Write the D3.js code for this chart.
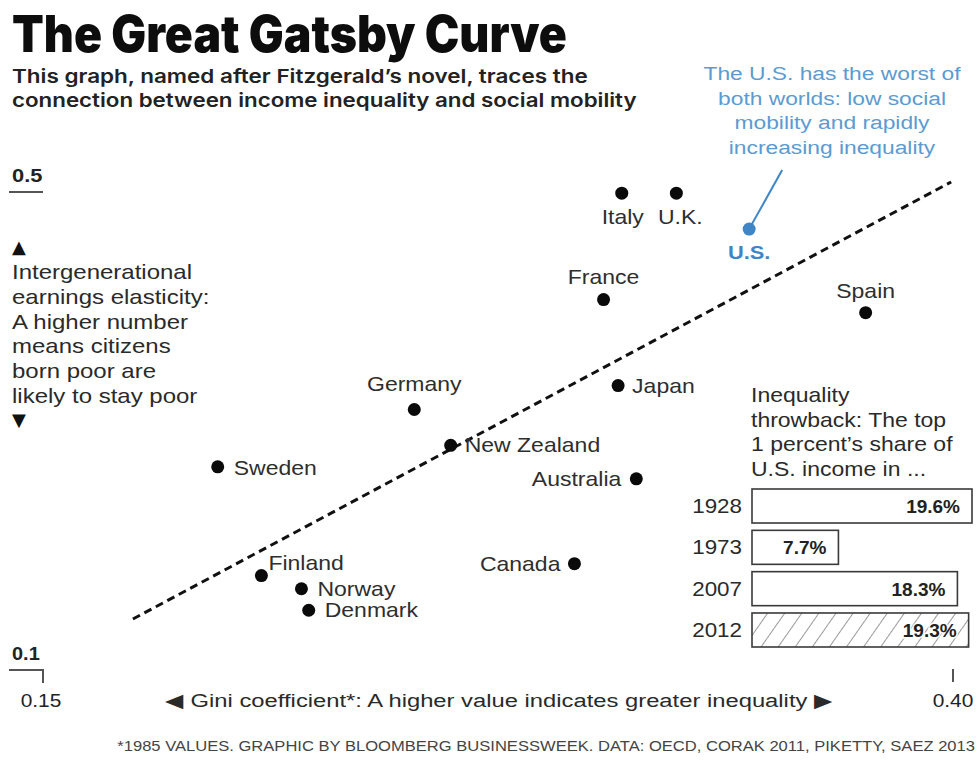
<!DOCTYPE html>
<html>
<head>
<meta charset="utf-8">
<script src="https://cdnjs.cloudflare.com/ajax/libs/d3/7.8.5/d3.min.js"></script>
<style>
  html, body { margin: 0; padding: 0; background: #fff; }
  svg { display: block; }
  text { font-family: "Liberation Sans", Arial, Helvetica, sans-serif; }
</style>
</head>
<body>
<div id="chart"></div>
<script>
// ---------- DATA ----------
const countries  = ["Italy", "U.K.", "U.S.", "France", "Spain", "Japan", "Germany", "New Zealand", "Sweden", "Australia", "Canada", "Finland", "Norway", "Denmark"];
const giniValues = [0.309, 0.324, 0.344, 0.304, 0.376, 0.308, 0.252, 0.262, 0.198, 0.313, 0.296, 0.210, 0.221, 0.223];
const elasticity = [0.499, 0.499, 0.469, 0.410, 0.399, 0.338, 0.318, 0.288, 0.270, 0.260, 0.189, 0.179, 0.168, 0.150];

const trendGini = [0.1747, 0.3995];
const trendElasticity = [0.1427, 0.5084];

const xTickValues = [0.15, 0.40];
const xTickLabels = ["0.15", "0.40"];
const yTickValues = [0.1, 0.5];
const yTickLabels = ["0.1", "0.5"];

const insetYears  = ["1928", "1973", "2007", "2012"];
const insetShares = [19.6, 7.7, 18.3, 19.3];
const insetLabels = ["19.6%", "7.7%", "18.3%", "19.3%"];

// ---------- SETUP ----------
const W = 979, H = 760;
const svg = d3.select("#chart").append("svg").attr("width", W).attr("height", H);

const x = d3.scaleLinear().domain([0.15, 0.40]).range([43, 953]);
const y = d3.scaleLinear().domain([0.1, 0.5]).range([670, 192]);

const BLUE = "#5b9bd1";
const BLUE_DARK = "#3f86c6";

// text helper: draws text at (tx,ty), horizontally scaled (sx) or fitted to a width
function txt(parent, tx, ty, s, o = {}) {
  const g = parent.append("g").attr("transform", `translate(${tx},${ty})`);
  const t = g.append("text").text(s)
    .attr("font-size", o.size || 20)
    .attr("font-weight", o.weight || "normal")
    .attr("fill", o.fill || "#2a2a2a")
    .attr("text-anchor", o.anchor || "start");
  if (o.family) t.style("font-family", o.family);
  let sx = o.sx || 1.16;
  if (o.width) {
    const w = t.node().getComputedTextLength();
    if (w > 0) sx = o.width / w;
  }
  t.attr("transform", `scale(${sx},1)`);
  return t;
}

// ---------- TITLE ----------
txt(svg, 12, 52, "The Great Gatsby Curve", {size: 51, weight: 900, fill: "#0d0d0d", width: 555, family: "Inter, 'Liberation Sans', Arial, sans-serif"});
txt(svg, 12, 83, "This graph, named after Fitzgerald’s novel, traces the", {size: 19, weight: 600, fill: "#222", width: 576, family: "Inter, 'Liberation Sans', Arial, sans-serif"});
txt(svg, 12, 107, "connection between income inequality and social mobility", {size: 19, weight: 600, fill: "#222", width: 625, family: "Inter, 'Liberation Sans', Arial, sans-serif"});

// ---------- US annotation ----------
const usLines = ["The U.S. has the worst of", "both worlds: low social", "mobility and rapidly", "increasing inequality"];
usLines.forEach((l, i) => txt(svg, 832, 80 + i * 24.5, l, {size: 19, fill: BLUE, anchor: "middle", sx: 1.2}));

// ---------- Y axis markers ----------
txt(svg, 12, 182, yTickLabels[1], {size: 19, weight: "bold", fill: "#222", sx: 1.15});
svg.append("line").attr("x1", 9).attr("x2", x(0.15)).attr("y1", y(yTickValues[1])).attr("y2", y(yTickValues[1]))
  .attr("stroke", "#555").attr("stroke-width", 2);

txt(svg, 12, 660, yTickLabels[0], {size: 19, weight: "bold", fill: "#222", sx: 1.05});
svg.append("path")
  .attr("d", `M9,${y(yTickValues[0])}H${x(xTickValues[0])}V${y(yTickValues[0]) + 13}`)
  .attr("fill", "none").attr("stroke", "#555").attr("stroke-width", 2);

svg.append("line").attr("x1", x(xTickValues[1])).attr("x2", x(xTickValues[1]))
  .attr("y1", y(yTickValues[0]) - 1).attr("y2", y(yTickValues[0]) + 12)
  .attr("stroke", "#555").attr("stroke-width", 2);

xTickValues.forEach((v, i) => txt(svg, x(v) - (i === 0 ? 2 : 0), 707, xTickLabels[i], {size: 19, fill: "#222", anchor: "middle", sx: 1.1}));

// y-axis description
txt(svg, 12, 253, "▲", {size: 18, fill: "#111", sx: 1.0, family: "'DejaVu Sans', sans-serif"});
const yLab = ["Intergenerational", "earnings elasticity:", "A higher number", "means citizens", "born poor are", "likely to stay poor"];
yLab.forEach((l, i) => txt(svg, 12, 279 + i * 24.8, l, {size: 20, fill: "#2a2a2a", sx: 1.2}));
txt(svg, 12, 426, "▼", {size: 18, fill: "#111", sx: 1.0, family: "'DejaVu Sans', sans-serif"});

// x-axis description
txt(svg, 499, 707, "◀ Gini coefficient*: A higher value indicates greater inequality ▶", {size: 19, fill: "#2a2a2a", anchor: "middle", width: 668});

// footer
txt(svg, 975, 751, "*1985 VALUES. GRAPHIC BY BLOOMBERG BUSINESSWEEK. DATA: OECD, CORAK 2011, PIKETTY, SAEZ 2013",
  {size: 15, fill: "#444", anchor: "end", width: 858, family: "'Liberation Sans Narrow', 'Liberation Sans', Arial, sans-serif"});

// ---------- trend line ----------
const trend = trendGini.map((g, i) => [g, trendElasticity[i]]);
svg.append("path")
  .attr("d", d3.line().x(d => x(d[0])).y(d => y(d[1]))(trend))
  .attr("fill", "none").attr("stroke", "#111").attr("stroke-width", 3)
  .attr("stroke-dasharray", "8,5");

// ---------- points ----------
const pts = countries.map((c, i) => ({name: c, g: giniValues[i], e: elasticity[i]}));

// US leader line
const us = pts.find(p => p.name === "U.S.");
svg.append("line")
  .attr("x1", x(us.g)).attr("y1", y(us.e))
  .attr("x2", x(us.g) + 33).attr("y2", y(us.e) - 59)
  .attr("stroke", BLUE_DARK).attr("stroke-width", 2);

svg.selectAll("circle.pt").data(pts).enter().append("circle")
  .attr("class", "pt")
  .attr("cx", d => x(d.g)).attr("cy", d => y(d.e))
  .attr("r", 6.5)
  .attr("fill", d => d.name === "U.S." ? BLUE_DARK : "#0a0a0a");

// label placement (style, not data)
const place = {
  "Italy":       {dx: 1,   dy: 31, anchor: "middle"},
  "U.K.":        {dx: 4,   dy: 31, anchor: "middle"},
  "U.S.":        {dx: 0,   dy: 30, anchor: "middle"},
  "France":      {dx: 0,   dy: -16, anchor: "middle"},
  "Spain":       {dx: 0,   dy: -15, anchor: "middle"},
  "Japan":       {dx: 14,  dy: 7,  anchor: "start"},
  "Germany":     {dx: 0,   dy: -18, anchor: "middle"},
  "New Zealand": {dx: 14,  dy: 7,  anchor: "start"},
  "Sweden":      {dx: 16,  dy: 8,  anchor: "start"},
  "Australia":   {dx: -15, dy: 7,  anchor: "end"},
  "Canada":      {dx: -14, dy: 7,  anchor: "end"},
  "Finland":     {dx: 7,   dy: -6, anchor: "start"},
  "Norway":      {dx: 16,  dy: 7,  anchor: "start"},
  "Denmark":     {dx: 16,  dy: 7,  anchor: "start"}
};
pts.forEach(p => {
  const pl = place[p.name];
  const isUS = p.name === "U.S.";
  txt(svg, x(p.g) + pl.dx, y(p.e) + pl.dy, p.name, {
    size: isUS ? 19 : 20,
    weight: isUS ? "bold" : "normal",
    fill: isUS ? BLUE_DARK : "#2e2e2e",
    anchor: pl.anchor,
    sx: 1.15
  });
});

// ---------- inset bar chart ----------
const insetTitle = ["Inequality", "throwback: The top", "1 percent’s share of", "U.S. income in ..."];
insetTitle.forEach((l, i) => txt(svg, 751, 402 + i * 24.6, l, {size: 20, fill: "#2a2a2a", sx: 1.15}));

const defs = svg.append("defs");
const pat = defs.append("pattern").attr("id", "hatch").attr("patternUnits", "userSpaceOnUse")
  .attr("width", 14).attr("height", 14).attr("patternTransform", "rotate(35)");
pat.append("rect").attr("width", 14).attr("height", 14).attr("fill", "#fff");
pat.append("line").attr("x1", 0).attr("y1", 0).attr("x2", 0).attr("y2", 14)
  .attr("stroke", "#555").attr("stroke-width", 1.2);

const bx = d3.scaleLinear().domain([0, 19.6]).range([0, 220]);
const by = d3.scaleBand().domain(insetYears).range([489, 647]).paddingInner(0.177).paddingOuter(0);
const bx0 = 752;

insetYears.forEach((yr, i) => {
  const top = by(yr), bh = by.bandwidth();
  svg.append("rect")
    .attr("x", bx0).attr("y", top)
    .attr("width", bx(insetShares[i])).attr("height", bh)
    .attr("fill", yr === "2012" ? "url(#hatch)" : "#fff")
    .attr("stroke", "#3a3a3a").attr("stroke-width", 1.6);
  txt(svg, 742, top + bh / 2 + 7, yr, {size: 20, fill: "#2a2a2a", anchor: "end", sx: 1.12});
  const lbl = txt(svg, bx0 + bx(insetShares[i]) - 12, top + bh / 2 + 7, insetLabels[i], {size: 19, weight: "bold", fill: "#222", anchor: "end", sx: 1.0});
  if (yr === "2012") {
    lbl.attr("stroke", "#fff").attr("stroke-width", 3).attr("paint-order", "stroke");
  }
});
</script>
</body>
</html>
